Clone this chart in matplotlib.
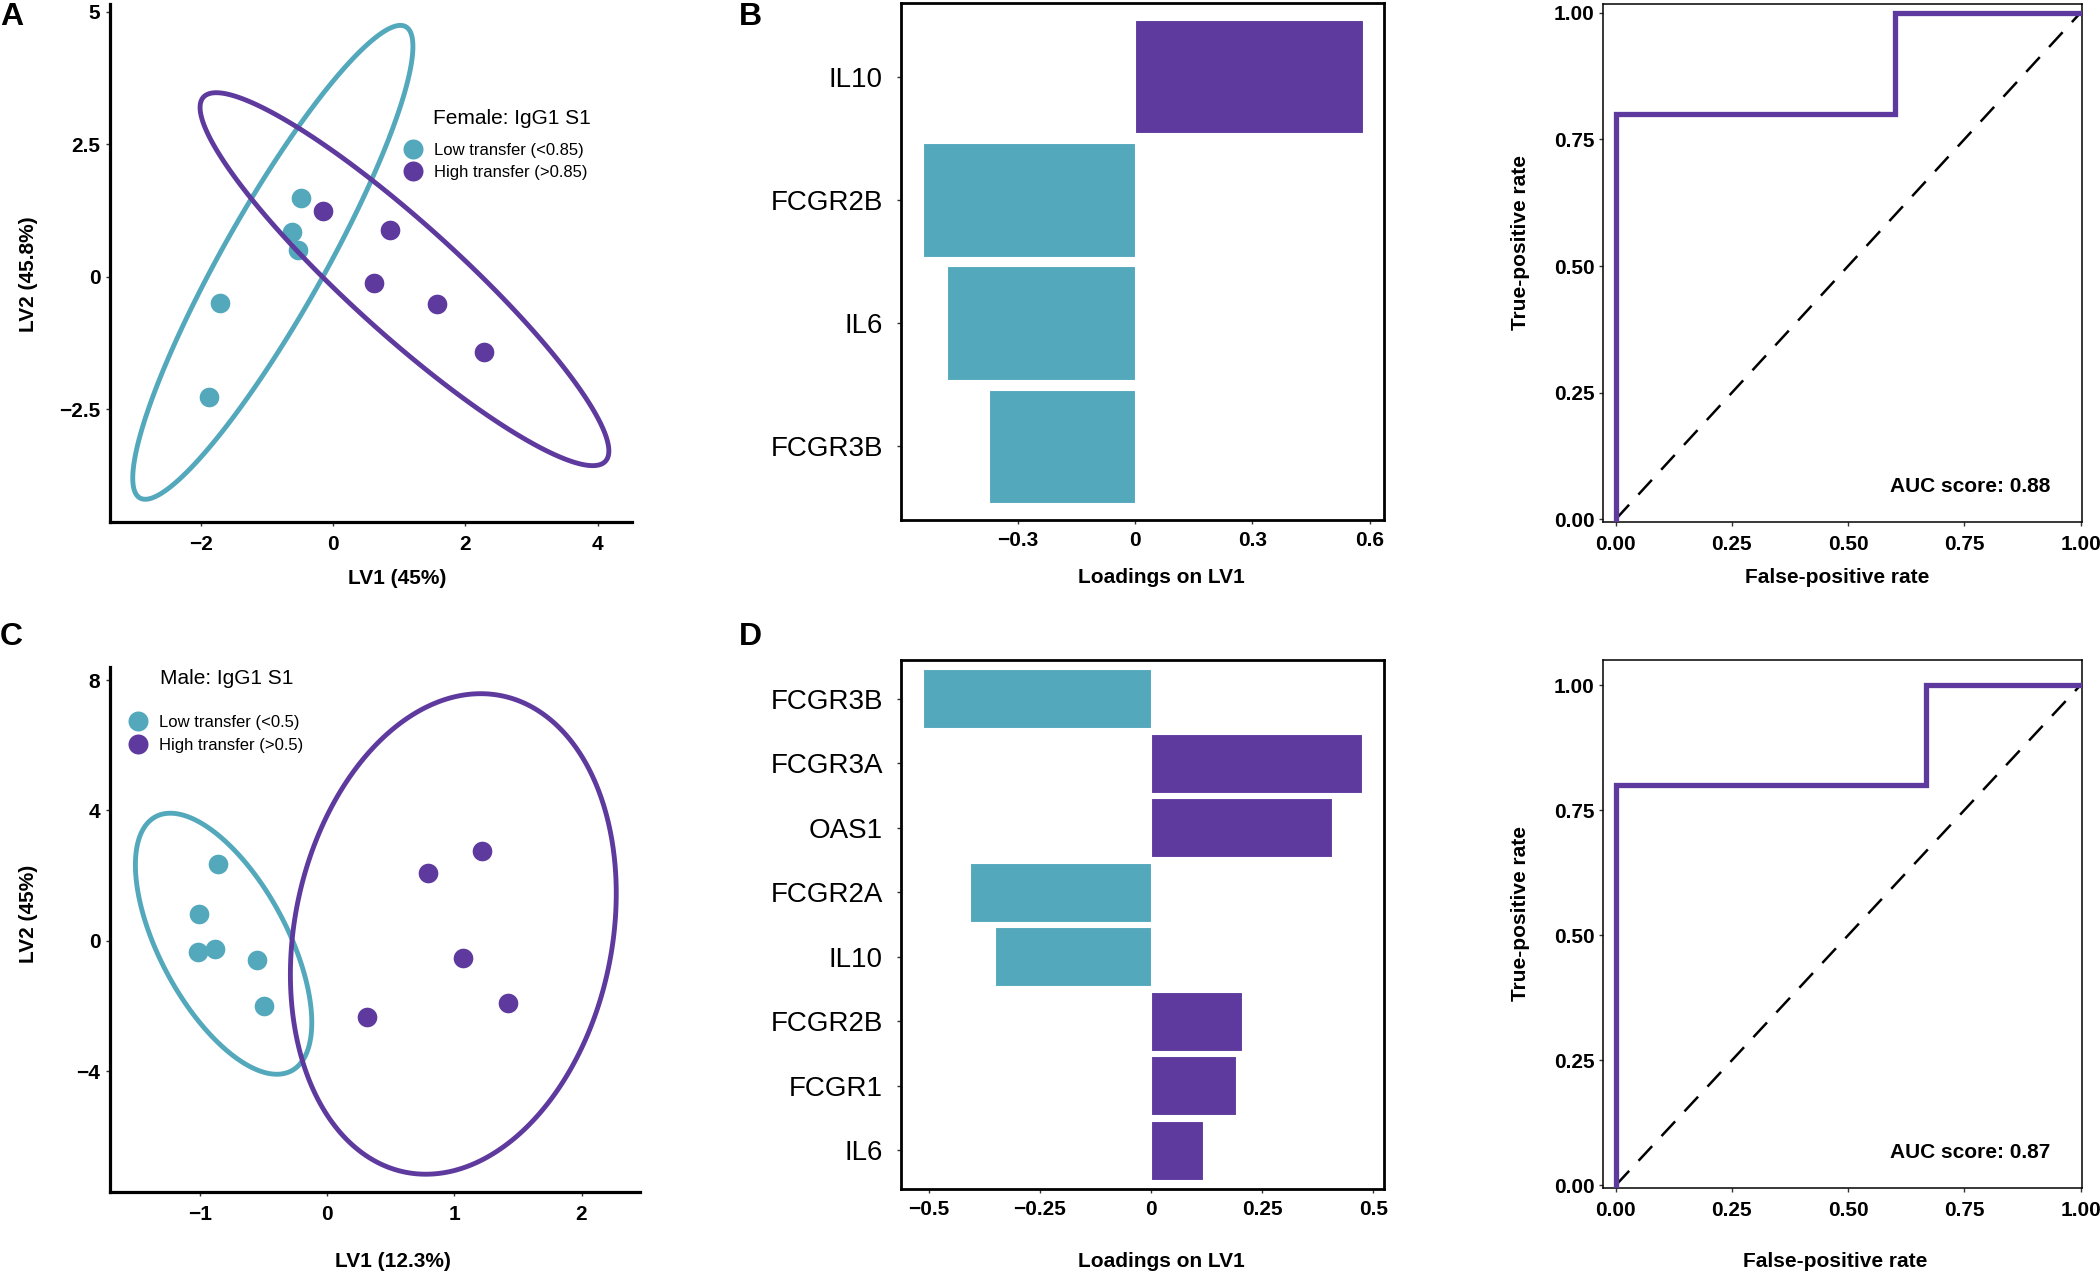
import numpy as np
import matplotlib
matplotlib.use("Agg")
import matplotlib.pyplot as plt
from matplotlib.lines import Line2D
from matplotlib.patches import Polygon

plt.rcParams['font.family'] = ['Liberation Sans', 'DejaVu Sans']

TEAL = '#53A8BC'
PURPLE = '#5E3A9E'
W, H = 2100, 1274

# A: female IgG1 S1, LV scores
female_low_lv1 = [-0.49, -0.62, -0.54, -1.72, -1.88]
female_low_lv2 = [1.48, 0.85, 0.50, -0.49, -2.27]
female_high_lv1 = [-0.16, 0.85, 0.62, 1.57, 2.28]
female_high_lv2 = [1.25, 0.88, -0.11, -0.52, -1.42]

# C: male IgG1 S1, LV scores
male_low_lv1 = [-0.86, -1.01, -1.02, -0.88, -0.55, -0.50]
male_low_lv2 = [2.36, 0.83, -0.34, -0.25, -0.60, -2.00]
male_high_lv1 = [0.79, 1.22, 1.07, 1.42, 0.31]
male_high_lv2 = [2.08, 2.75, -0.53, -1.91, -2.34]

# B / D: loadings on LV1
female_genes = ['IL10', 'FCGR2B', 'IL6', 'FCGR3B']
female_loadings = [0.582, -0.542, -0.480, -0.373]
male_genes = ['FCGR3B', 'FCGR3A', 'OAS1', 'FCGR2A', 'IL10', 'FCGR2B', 'FCGR1', 'IL6']
male_loadings = [-0.513, 0.475, 0.408, -0.407, -0.350, 0.205, 0.192, 0.117]

# ROC curves
roc_female_fpr = [0, 0, 0.6, 0.6, 1]
roc_female_tpr = [0, 0.8, 0.8, 1, 1]
roc_male_fpr = [0, 0, 0.667, 0.667, 1]
roc_male_tpr = [0, 0.8, 0.8, 1, 1]
auc_female = 0.88
auc_male = 0.87


def cov_trob(pts, nu=5, maxit=25, tol=0.01):
    # same as MASS::cov.trob, used by ggplot stat_ellipse
    n, p = pts.shape
    loc = pts.mean(axis=0)
    w = np.ones(n)
    for _ in range(maxit):
        w0 = w
        X = pts - loc
        u, d, vt = np.linalg.svd(np.sqrt(w / w.sum())[:, None] * X, full_matrices=False)
        Q = ((X @ vt.T / d) ** 2).sum(axis=1)
        w = (nu + p) / (nu + Q)
        loc = (w[:, None] * pts).sum(axis=0) / w.sum()
        if np.all(np.abs(w - w0) < tol):
            break
    sX = np.sqrt(w)[:, None] * X
    return loc, sX.T @ sX / n


def ellipse(x, y, level=0.95):
    pts = np.column_stack([x, y])
    center, shape = cov_trob(pts)
    dfd = len(pts) - 1
    fq = dfd / 2 * ((1 - level) ** (-2 / dfd) - 1)  # qf(level, 2, dfd)
    radius = np.sqrt(2 * fq)
    R = np.linalg.cholesky(shape).T
    t = np.linspace(0, 2 * np.pi, 300, endpoint=False)
    circle = np.column_stack([np.cos(t), np.sin(t)])
    return center + radius * circle @ R


def px_axes(left, top, right, bottom):
    return fig.add_axes([left / W, 1 - bottom / H, (right - left) / W, (bottom - top) / H])


def bold_ticks(ax, xt, xl, yt, yl):
    ax.set_xticks(xt)
    ax.set_xticklabels(xl, fontsize=15, fontweight='bold')
    ax.set_yticks(yt)
    ax.set_yticklabels(yl, fontsize=15, fontweight='bold')


def scores_panel(ax, low, high, xlim, ylim, xlabel, ylabel, xt, xl, yt, yl):
    ax.scatter(low[0], low[1], s=200, color=TEAL, linewidths=0, zorder=3)
    ax.scatter(high[0], high[1], s=200, color=PURPLE, linewidths=0, zorder=3)
    for (gx, gy), c in [(low, TEAL), (high, PURPLE)]:
        ax.add_patch(Polygon(ellipse(gx, gy), closed=True, fill=False, ec=c, lw=3.5, zorder=4))
    ax.set_xlim(xlim)
    ax.set_ylim(ylim)
    for s in ['top', 'right']:
        ax.spines[s].set_visible(False)
    for s in ['left', 'bottom']:
        ax.spines[s].set_linewidth(2.3)
    bold_ticks(ax, xt, xl, yt, yl)
    ax.tick_params(length=3, width=1, color='#333333', pad=4)
    ax.tick_params(axis='x', pad=6)
    ax.set_xlabel(xlabel, fontsize=15, fontweight='bold')
    ax.set_ylabel(ylabel, fontsize=15, fontweight='bold')


def loadings_panel(ax, genes, vals, xlim, xt, xl):
    pos = np.arange(len(genes))
    cols = [PURPLE if v > 0 else TEAL for v in vals]
    ax.barh(pos, vals, height=0.92, color=cols, edgecolor='white', linewidth=0.8)
    ax.set_ylim(len(genes) - 0.4, -0.6)
    ax.set_xlim(xlim)
    ax.set_yticks(pos)
    ax.set_yticklabels(genes, fontsize=20)
    ax.set_xticks(xt)
    ax.set_xticklabels(xl, fontsize=15, fontweight='bold')
    ax.tick_params(length=3, width=1, color='#333333')
    ax.tick_params(axis='y', pad=10)
    ax.tick_params(axis='x', pad=5)
    for s in ax.spines.values():
        s.set_linewidth(2.0)
    ax.set_xlabel('Loadings on LV1', fontsize=15, fontweight='bold')


def roc_panel(ax, fpr, tpr, auc, ylim):
    ax.plot([0, 1], [0, 1], color='black', lw=1.8, dashes=(8, 5.5))
    ax.plot(fpr, tpr, color=PURPLE, lw=3.8, solid_joinstyle='miter', zorder=3)
    ax.set_xlim(-0.027, 1.003)
    ax.set_ylim(ylim)
    ticks = [0, 0.25, 0.5, 0.75, 1.0]
    labs = ['0.00', '0.25', '0.50', '0.75', '1.00']
    bold_ticks(ax, ticks, labs, ticks, labs)
    ax.tick_params(length=3, width=1, color='#333333', pad=3)
    ax.tick_params(axis='x', pad=6)
    for s in ax.spines.values():
        s.set_linewidth(1.1)
    ax.text(0.935, 0.065, 'AUC score: %.2f' % auc, fontsize=15, fontweight='bold',
            ha='right', va='center')
    ax.set_xlabel('False-positive rate', fontsize=15, fontweight='bold')
    ax.set_ylabel('True-positive rate', fontsize=15, fontweight='bold')


def group_legend(ax, x, y, labels):
    handles = [Line2D([], [], ls='none', marker='o', ms=14.4, mec='none', mfc=c)
               for c in (TEAL, PURPLE)]
    ax.legend(handles, labels, loc='center left', bbox_to_anchor=(x / W, 1 - y / H),
              bbox_transform=fig.transFigure, frameon=False, fontsize=12,
              handlelength=1.0, handletextpad=0.76, labelspacing=0.45,
              borderpad=0, borderaxespad=0)


fig = plt.figure(figsize=(21, 12.74), dpi=100)

axA = px_axes(110, 4, 632, 522)
scores_panel(axA, (female_low_lv1, female_low_lv2), (female_high_lv1, female_high_lv2),
             (-3.38, 4.52), (-4.63, 5.15), 'LV1 (45%)', 'LV2 (45.8%)',
             [-2, 0, 2, 4], ['\u22122', '0', '2', '4'],
             [-2.5, 0, 2.5, 5], ['\u22122.5', '0', '2.5', '5'])
axA.xaxis.set_label_coords(0.55, -0.09)
axA.yaxis.set_label_coords(-0.138, 0.479)
fig.text(433 / W, 1 - 118 / H, 'Female: IgG1 S1', fontsize=15, va='center')
group_legend(axA, 405, 161.5, ['Low transfer (<0.85)', 'High transfer (>0.85)'])

axC = px_axes(110, 667, 640, 1192)
scores_panel(axC, (male_low_lv1, male_low_lv2), (male_high_lv1, male_high_lv2),
             (-1.71, 2.46), (-7.7, 8.4), 'LV1 (12.3%)', 'LV2 (45%)',
             [-1, 0, 1, 2], ['\u22121', '0', '1', '2'],
             [-4, 0, 4, 8], ['\u22124', '0', '4', '8'])
axC.xaxis.set_label_coords(0.534, -0.115)
axC.yaxis.set_label_coords(-0.136, 0.53)
fig.text(160 / W, 1 - 679 / H, 'Male: IgG1 S1', fontsize=15, va='center')
group_legend(axC, 130, 734, ['Low transfer (<0.5)', 'High transfer (>0.5)'])

axB = px_axes(901, 3, 1384, 520)
loadings_panel(axB, female_genes, female_loadings, (-0.598, 0.636),
               [-0.3, 0, 0.3, 0.6], ['\u22120.3', '0', '0.3', '0.6'])
axB.xaxis.set_label_coords(0.54, -0.093)

axD = px_axes(901, 660, 1384, 1189)
loadings_panel(axD, male_genes, male_loadings, (-0.562, 0.524),
               [-0.5, -0.25, 0, 0.25, 0.5], ['\u22120.5', '\u22120.25', '0', '0.25', '0.5'])
axD.xaxis.set_label_coords(0.54, -0.119)

axR1 = px_axes(1603, 4, 2082, 522)
roc_panel(axR1, roc_female_fpr, roc_female_tpr, auc_female, (-0.005, 1.017))
axR1.xaxis.set_label_coords(0.489, -0.089)
axR1.yaxis.set_label_coords(-0.153, 0.54)

axR2 = px_axes(1603, 660, 2082, 1188)
roc_panel(axR2, roc_male_fpr, roc_male_tpr, auc_male, (-0.005, 1.05))
axR2.xaxis.set_label_coords(0.484, -0.121)
axR2.yaxis.set_label_coords(-0.153, 0.52)

for letter, x, y in [('A', 0, 2), ('B', 739, 2), ('C', 0, 622), ('D', 739, 622)]:
    fig.text(x / W, 1 - y / H, letter, fontsize=23, fontweight='bold', va='top', ha='left')

fig.savefig('out.png', dpi=100)
